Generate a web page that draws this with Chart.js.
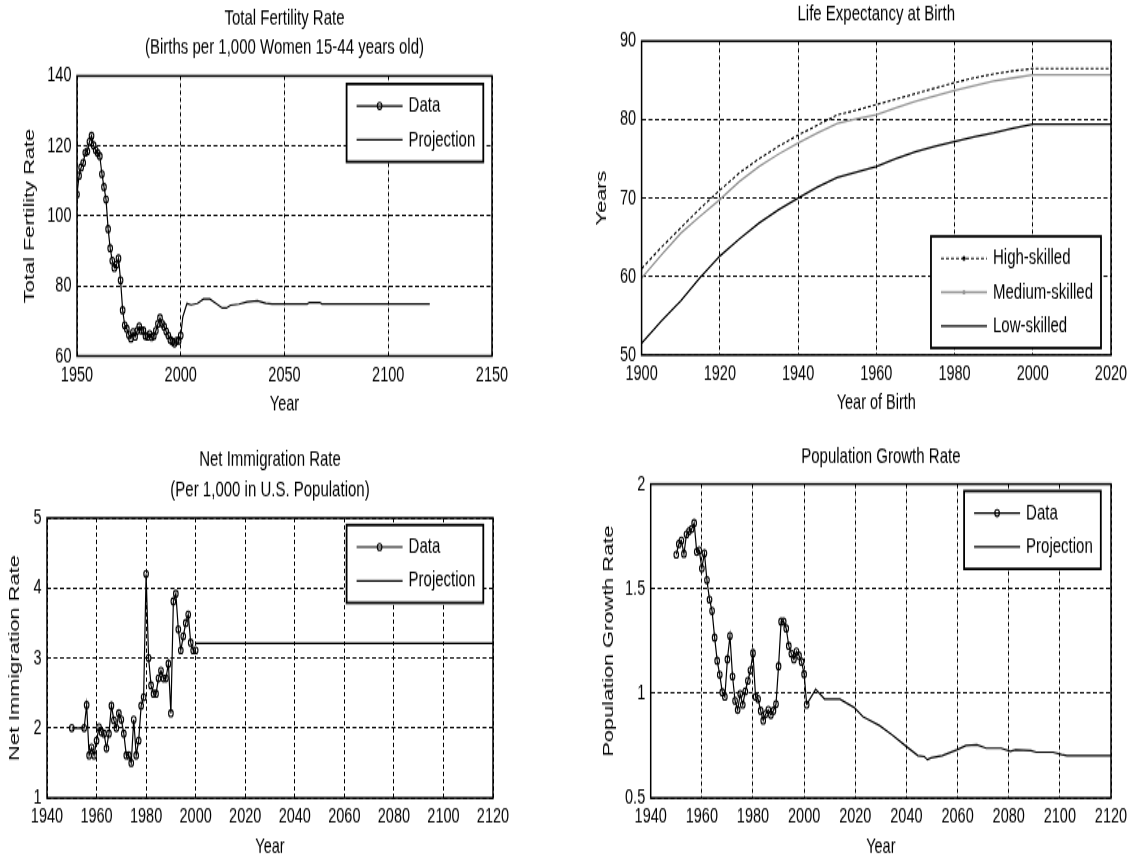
<!DOCTYPE html>
<html>

<head>
  <meta charset="utf-8">
  <title>Demographic Assumptions</title>
  <script src="https://cdn.jsdelivr.net/npm/chart.js@4.4.0/dist/chart.umd.min.js"></script>
  <style>
    body { margin: 0; background: #fff; }
    #page { position: relative; width: 1136px; height: 862px; overflow: hidden; }
    /* panels are drawn short and stretched vertically, like the old figure export */
    .panel { position: absolute; width: 568px; height: 297px; transform: scaleY(1.45); transform-origin: 0 0; }
  </style>
</head>

<body>
  <div id="page">
    <div class="panel" style="left: 0; top: 0;"><canvas id="fertChart" width="568" height="297"></canvas></div>
    <div class="panel" style="left: 568px; top: 0;"><canvas id="lifeChart" width="568" height="297"></canvas></div>
    <div class="panel" style="left: 0; top: 431px;"><canvas id="immChart" width="568" height="297"></canvas></div>
    <div class="panel" style="left: 568px; top: 431px;"><canvas id="growthChart" width="568" height="297"></canvas></div>
  </div>

  <script>
    // ---- Total fertility rate (births per 1,000 women 15-44) ----
    const fertStartYear = 1950;
    const fertData = [106.2, 111.5, 113.9, 115.2, 118.1, 118.5, 121.2, 122.9, 120.2, 118.8,
      118.0, 117.1, 112.0, 108.3, 104.7, 96.3, 90.8, 87.2, 85.2, 86.1,
      87.9, 81.6, 73.1, 68.8, 67.8, 66.0, 65.0, 66.8, 65.5, 67.2,
      68.4, 67.3, 67.3, 65.7, 65.5, 66.3, 65.4, 65.7, 67.2, 69.2,
      70.9, 69.3, 68.4, 67.0, 65.9, 64.6, 64.1, 63.6, 64.3, 64.4, 65.9];
    const fertProjYears = [2000, 2001, 2003, 2005, 2008, 2011, 2014, 2017, 2020, 2022, 2024, 2028,
      2032, 2037, 2041, 2044, 2061, 2062, 2067, 2068, 2120];
    const fertProj = [65.9, 71.2, 75.0, 74.6, 75.0, 76.3, 76.3, 75.0, 73.7, 73.7, 74.5, 74.8,
      75.5, 75.8, 75.1, 74.9, 74.9, 75.3, 75.3, 74.9, 74.9];
    const fertXTicks = [1950, 2000, 2050, 2100, 2150];
    const fertYTicks = [60, 80, 100, 120, 140];

    // ---- Life expectancy at birth by skill group ----
    const lifeYears = [1900, 1905, 1910, 1915, 1920, 1925, 1930, 1935, 1940, 1945, 1950,
      1955, 1960, 1965, 1970, 1975, 1980, 1985, 1990, 1995, 2000, 2020];
    const lifeHigh = [61.0, 63.7, 66.2, 68.7, 71.0, 73.2, 75.0, 76.6, 78.0, 79.3, 80.6,
      81.2, 81.9, 82.6, 83.3, 84.0, 84.7, 85.3, 85.8, 86.2, 86.5, 86.5];
    const lifeMedium = [59.8, 62.7, 65.5, 67.7, 69.8, 72.1, 74.0, 75.6, 77.0, 78.3, 79.5,
      80.1, 80.6, 81.5, 82.3, 83.0, 83.7, 84.3, 84.9, 85.3, 85.7, 85.7];
    const lifeLow = [51.5, 54.3, 56.9, 59.9, 62.6, 64.8, 66.8, 68.5, 70.0, 71.4, 72.6,
      73.3, 74.0, 75.0, 75.9, 76.6, 77.2, 77.8, 78.3, 78.9, 79.4, 79.4];
    const lifeXTicks = [1900, 1920, 1940, 1960, 1980, 2000, 2020];
    const lifeYTicks = [50, 60, 70, 80, 90];

    // ---- Net immigration rate (per 1,000) ----
    const immYears = [1950, 1955, 1956, 1957, 1958, 1959, 1960, 1961, 1962, 1963, 1964, 1965,
      1966, 1967, 1968, 1969, 1970, 1971, 1972, 1973, 1974, 1975, 1976, 1977, 1978, 1979,
      1980, 1981, 1982, 1983, 1984, 1985, 1986, 1987, 1988, 1989, 1990, 1991, 1992, 1993,
      1994, 1995, 1996, 1997, 1998, 1999, 2000];
    const immData = [2.0, 2.0, 2.33, 1.61, 1.72, 1.61, 1.82, 2.01, 1.94, 1.92, 1.71, 1.92,
      2.32, 2.11, 2.0, 2.21, 2.12, 1.92, 1.61, 1.61, 1.5, 2.12, 1.61, 1.82, 2.32, 2.44,
      4.2, 3.0, 2.61, 2.49, 2.49, 2.71, 2.82, 2.71, 2.71, 2.92, 2.21, 3.81, 3.92, 3.41,
      3.11, 3.31, 3.5, 3.62, 3.22, 3.11, 3.11];
    const immProjYears = [2000, 2120];
    const immProj = [3.21, 3.21];
    const immXTicks = [1940, 1960, 1980, 2000, 2020, 2040, 2060, 2080, 2100, 2120];
    const immYTicks = [1, 2, 3, 4, 5];

    // ---- Population growth rate ----
    const growthStartYear = 1950;
    const growthData = [1.663, 1.714, 1.73, 1.667, 1.76, 1.775, 1.786, 1.814, 1.676, 1.683,
      1.597, 1.67, 1.541, 1.448, 1.394, 1.267, 1.156, 1.089, 1.005, 0.984,
      1.163, 1.275, 1.081, 0.965, 0.921, 0.997, 0.946, 1.01, 1.06, 1.11,
      1.192, 0.984, 0.973, 0.917, 0.87, 0.902, 0.921, 0.897, 0.917, 0.949,
      1.13, 1.343, 1.343, 1.31, 1.227, 1.19, 1.163, 1.2, 1.18, 1.151, 1.092, 0.946];
    const growthProjYears = [2001, 2004.5, 2008, 2014, 2019.5, 2023, 2029.5, 2034, 2039.5, 2044.5,
      2047, 2048.2, 2049.6, 2054, 2059.7, 2063.3, 2067.6, 2071.2, 2077, 2080.6,
      2082.7, 2088.7, 2090.8, 2097.3, 2100.7, 2102.8, 2120];
    const growthProj = [0.946, 1.02, 0.973, 0.973, 0.933, 0.889, 0.846, 0.806, 0.751, 0.703,
      0.698, 0.683, 0.692, 0.703, 0.730, 0.751, 0.754, 0.738, 0.738, 0.724,
      0.730, 0.727, 0.719, 0.719, 0.708, 0.703, 0.703];
    const growthXTicks = [1940, 1960, 1980, 2000, 2020, 2040, 2060, 2080, 2100, 2120];
    const growthYTicks = [0.5, 1, 1.5, 2];

    const FONT = "'Liberation Sans', Arial, Helvetica, sans-serif";
    const CANVAS_W = 568, CANVAS_H = 297;
    const TITLE_LH = 20.7;      // 15px * 1.38
    const XAXIS_H = 42.3;

    function pairs(xs, ys) {
      return ys.map((y, i) => ({ x: xs[i], y: y }));
    }
    function yearly(start, ys) {
      return ys.map((y, i) => ({ x: start + i, y: y }));
    }

    function dataSet(points) {
      return {
        label: 'Data', data: points, borderColor: '#000', borderWidth: 1.2,
        pointRadius: 2.3, pointBorderWidth: 1.1, pointBorderColor: '#000',
        pointBackgroundColor: 'rgba(0,0,0,0)', tension: 0
      };
    }
    function projSet(points) {
      return { label: 'Projection', data: points, borderColor: '#000', borderWidth: 1.2, pointRadius: 0, tension: 0 };
    }

    // box around the axes plus a boxed legend in one corner of the plot
    const frameAndLegend = {
      id: 'frameAndLegend',
      afterDatasetsDraw(chart, args, opts) {
        const ctx = chart.ctx;
        const a = chart.chartArea;
        ctx.save();
        ctx.setLineDash([]);
        ctx.strokeStyle = '#000';
        ctx.lineWidth = 1.5;
        ctx.strokeRect(a.left, a.top, a.right - a.left, a.bottom - a.top);

        const sets = chart.data.datasets;
        ctx.font = '15px ' + FONT;
        let maxW = 0;
        sets.forEach(ds => { maxW = Math.max(maxW, ctx.measureText(ds.label).width); });
        const w = 62 + maxW + 8;
        const h = 2 * 15.2 + (sets.length - 1) * 23.3;
        const x0 = a.right - opts.dx - w;
        const y0 = opts.corner === 'bottom' ? a.bottom - opts.dy - h : a.top + opts.dy;

        ctx.fillStyle = '#fff';
        ctx.fillRect(x0, y0, w, h);
        ctx.lineWidth = 1.8;
        ctx.strokeRect(x0, y0, w, h);

        sets.forEach((ds, i) => {
          const y = y0 + 15.2 + i * 23.3;
          ctx.save();
          ctx.strokeStyle = ds.borderColor;
          ctx.lineWidth = ds.borderWidth;
          ctx.setLineDash(ds.borderDash || []);
          ctx.beginPath();
          ctx.moveTo(x0 + 10, y);
          ctx.lineTo(x0 + 56, y);
          ctx.stroke();
          ctx.setLineDash([]);
          if (ds.pointRadius > 0) {
            ctx.lineWidth = ds.pointBorderWidth;
            ctx.beginPath();
            ctx.arc(x0 + 33, y, ds.pointRadius, 0, Math.PI * 2);
            ctx.stroke();
          }
          if (ds.legendDot) {
            ctx.fillStyle = ds.borderColor;
            ctx.beginPath();
            ctx.arc(x0 + 33, y, ds.legendDot, 0, Math.PI * 2);
            ctx.fill();
          }
          ctx.restore();
          ctx.fillStyle = '#000';
          ctx.textBaseline = 'middle';
          ctx.textAlign = 'left';
          ctx.fillText(ds.label, x0 + 62, y);
        });
        ctx.restore();
      }
    };

    function tickSetter(values) {
      return scale => { scale.ticks = values.map(v => ({ value: v })); };
    }

    // g holds the panel layout: plot box (canvas px), title placement, legend corner
    function panelChart(id, datasets, g) {
      const lines = Array.isArray(g.title) ? g.title.length : 1;
      const padTop = Math.max(0, g.titleCenter - TITLE_LH / 2);
      const titleGap = g.top - padTop - lines * TITLE_LH;

      return new Chart(document.getElementById(id), {
        type: 'line',
        data: { datasets: datasets },
        plugins: [frameAndLegend],
        options: {
          responsive: false,
          animation: false,
          events: [],
          layout: {
            padding: {
              left: g.left - (g.yTitleOff + 9),
              right: CANVAS_W - g.right,
              top: padTop,
              bottom: CANVAS_H - g.bottom - XAXIS_H
            }
          },
          plugins: {
            legend: { display: false },
            tooltip: { enabled: false },
            title: {
              display: true, text: g.title, fullSize: false, color: '#000',
              font: { family: FONT, size: 15, weight: 'normal', lineHeight: 1.38 },
              padding: { top: 0, bottom: titleGap }
            },
            frameAndLegend: g.legend
          },
          scales: {
            x: {
              type: 'linear', min: g.xTicks[0], max: g.xTicks[g.xTicks.length - 1],
              afterBuildTicks: tickSetter(g.xTicks),
              afterFit: s => { s.height = XAXIS_H; s.paddingLeft = 0; s.paddingRight = 0; },
              grid: { color: '#000', lineWidth: 1, drawTicks: false },
              border: { display: false, dash: [3, 2] },
              ticks: {
                color: '#000', padding: 4.6, autoSkip: false, maxRotation: 0,
                font: { family: FONT, size: 14.5 }, callback: v => String(v)
              },
              title: {
                display: true, text: g.xTitle, color: '#000', padding: 0,
                font: { family: FONT, size: 14.5, lineHeight: 1.2 }
              }
            },
            y: {
              type: 'linear', min: g.yTicks[0], max: g.yTicks[g.yTicks.length - 1],
              afterBuildTicks: tickSetter(g.yTicks),
              afterFit: s => { s.width = g.yTitleOff + 9; s.paddingTop = 0; s.paddingBottom = 0; },
              grid: { color: '#000', lineWidth: 1, drawTicks: false },
              border: { display: false, dash: [4, 2.5] },
              ticks: {
                color: '#000', padding: 5.5, autoSkip: false,
                font: { family: FONT, size: 14.5 }, callback: v => String(v)
              },
              title: {
                display: true, text: g.yTitle, color: '#000', padding: 0,
                font: { family: FONT, size: 15, lineHeight: 1.2 }
              }
            }
          }
        }
      });
    }

    panelChart('fertChart',
      [dataSet(yearly(fertStartYear, fertData)), projSet(pairs(fertProjYears, fertProj))],
      {
        left: 77, right: 492, top: 52.4, bottom: 245.5, yTitleOff: 47, titleCenter: 12.4,
        title: ['Total Fertility Rate', '(Births per 1,000 Women 15-44 years old)'],
        xTitle: 'Year', yTitle: 'Total Fertility Rate',
        xTicks: fertXTicks, yTicks: fertYTicks,
        legend: { corner: 'top', dx: 8.7, dy: 5.5 }
      });

    panelChart('lifeChart',
      [
        { label: 'High-skilled', data: pairs(lifeYears, lifeHigh), borderColor: '#000', borderWidth: 1.1,
          borderDash: [3, 2], pointRadius: 0, legendDot: 1.6, tension: 0 },
        { label: 'Medium-skilled', data: pairs(lifeYears, lifeMedium), borderColor: '#939393', borderWidth: 1.3,
          pointRadius: 0, legendDot: 1.6, tension: 0 },
        { label: 'Low-skilled', data: pairs(lifeYears, lifeLow), borderColor: '#000', borderWidth: 1.3,
          pointRadius: 0, tension: 0 }
      ],
      {
        left: 73.6, right: 543, top: 28.3, bottom: 244.8, yTitleOff: 39.4, titleCenter: 10.3,
        title: 'Life Expectancy at Birth',
        xTitle: 'Year of Birth', yTitle: 'Years',
        xTicks: lifeXTicks, yTicks: lifeYTicks,
        legend: { corner: 'bottom', dx: 10, dy: 4.8 }
      });

    panelChart('immChart',
      [dataSet(pairs(immYears, immData)), projSet(pairs(immProjYears, immProj))],
      {
        left: 47, right: 493, top: 60, bottom: 253.1, yTitleOff: 32, titleCenter: 20,
        title: ['Net Immigration Rate', '(Per 1,000 in U.S. Population)'],
        xTitle: 'Year', yTitle: 'Net Immigration Rate',
        xTicks: immXTicks, yTicks: immYTicks,
        legend: { corner: 'top', dx: 9.7, dy: 4.8 }
      });

    panelChart('growthChart',
      [dataSet(yearly(growthStartYear, growthData)), projSet(pairs(growthProjYears, growthProj))],
      {
        left: 82.7, right: 543, top: 36.6, bottom: 253.1, yTitleOff: 42, titleCenter: 17.7,
        title: 'Population Growth Rate',
        xTitle: 'Year', yTitle: 'Population Growth Rate',
        xTicks: growthXTicks, yTicks: growthYTicks,
        legend: { corner: 'top', dx: 10.2, dy: 4.8 }
      });
  </script>
</body>

</html>
